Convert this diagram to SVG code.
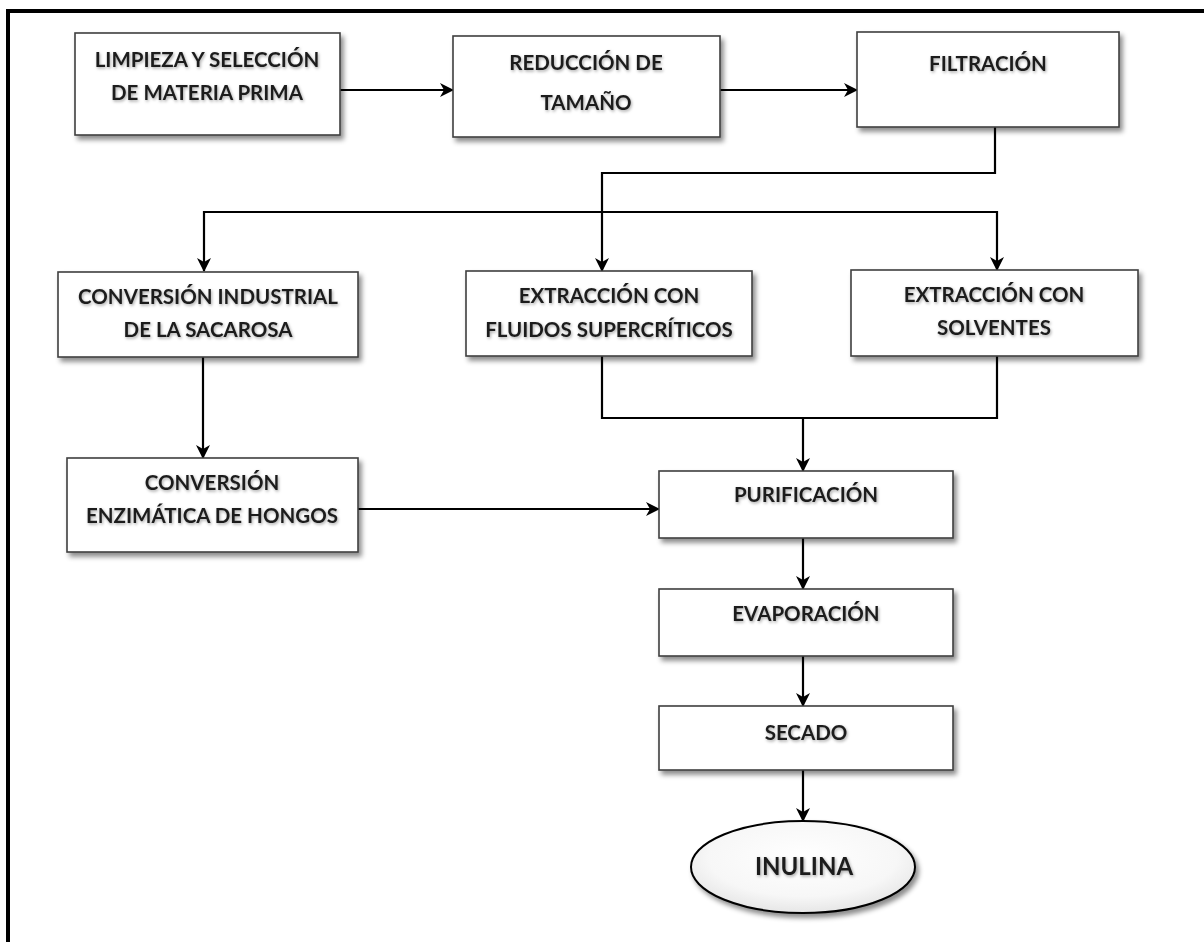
<svg xmlns="http://www.w3.org/2000/svg" width="1204" height="942" viewBox="0 0 1204 942">
  <defs>
    <filter id="shadow" x="-10%" y="-10%" width="130%" height="140%">
      <feDropShadow dx="3" dy="4" stdDeviation="2.5" flood-color="#000" flood-opacity="0.45"/>
    </filter>
    <filter id="tshadow" x="-10%" y="-30%" width="120%" height="160%">
      <feDropShadow dx="1" dy="1.5" stdDeviation="1.5" flood-color="#000" flood-opacity="0.35"/>
    </filter>
    <radialGradient id="eg" cx="50%" cy="40%" r="60%">
      <stop offset="0" stop-color="#ffffff"/>
      <stop offset="0.7" stop-color="#f7f7f7"/>
      <stop offset="1" stop-color="#e6e6e6"/>
    </radialGradient>
    <marker id="arr" markerWidth="14" markerHeight="14" refX="13" refY="7" orient="auto" markerUnits="userSpaceOnUse">
      <path d="M0,0 L14,7 L0,14 L4,7 Z" fill="#000"/>
    </marker>
  </defs>
  <style>
    .box { fill: #ffffff; stroke: #3f3f3f; stroke-width: 1.6; filter: url(#shadow); }
    .lbl { font-family: Lato, "Open Sans", "Liberation Sans", sans-serif; font-weight: bold; font-size: 20.5px; fill: #1e1e1e; text-anchor: middle; filter: url(#tshadow); }
    .big { font-size: 24px; }
    .con { fill: none; stroke: #000; stroke-width: 2.2; }
  </style>

  <rect x="0" y="0" width="1204" height="942" fill="#ffffff"/>
  <path d="M8,942 V11 H1204" fill="none" stroke="#000" stroke-width="4"/>

  <g id="connectors">
    <path class="con" d="M340,90 H453" marker-end="url(#arr)"/>
    <path class="con" d="M720,90 H857" marker-end="url(#arr)"/>
    <path class="con" d="M995,127 V173 H602 V271" marker-end="url(#arr)"/>
    <path class="con" d="M600,212 H204 V271" marker-end="url(#arr)"/>
    <path class="con" d="M600,212 H997 V270" marker-end="url(#arr)"/>
    <path class="con" d="M602,356 V418 H997 V356"/>
    <path class="con" d="M803,418 V471" marker-end="url(#arr)"/>
    <path class="con" d="M203,357 V458" marker-end="url(#arr)"/>
    <path class="con" d="M358,509 H659" marker-end="url(#arr)"/>
    <path class="con" d="M803,538 V589" marker-end="url(#arr)"/>
    <path class="con" d="M803,656 V706" marker-end="url(#arr)"/>
    <path class="con" d="M803,770 V821" marker-end="url(#arr)"/>
  </g>

  <g id="limpieza">
    <rect class="box" x="75" y="33" width="265" height="102"/>
    <text class="lbl" x="207" y="67">LIMPIEZA Y SELECCIÓN</text>
    <text class="lbl" x="207" y="100">DE MATERIA PRIMA</text>
  </g>
  <g id="reduccion">
    <rect class="box" x="453" y="36" width="267" height="101"/>
    <text class="lbl" x="586" y="70">REDUCCIÓN DE</text>
    <text class="lbl" x="586" y="110">TAMAÑO</text>
  </g>
  <g id="filtracion">
    <rect class="box" x="857" y="32" width="262" height="95"/>
    <text class="lbl" x="988" y="71">FILTRACIÓN</text>
  </g>
  <g id="conversion-industrial">
    <rect class="box" x="58" y="272" width="300" height="85"/>
    <text class="lbl" x="208" y="304">CONVERSIÓN INDUSTRIAL</text>
    <text class="lbl" x="208" y="337">DE LA SACAROSA</text>
  </g>
  <g id="extraccion-fluidos">
    <rect class="box" x="466" y="271" width="286" height="85"/>
    <text class="lbl" x="609" y="303">EXTRACCIÓN CON</text>
    <text class="lbl" x="609" y="337">FLUIDOS SUPERCRÍTICOS</text>
  </g>
  <g id="extraccion-solventes">
    <rect class="box" x="851" y="270" width="287" height="86"/>
    <text class="lbl" x="994" y="302">EXTRACCIÓN CON</text>
    <text class="lbl" x="994" y="335">SOLVENTES</text>
  </g>
  <g id="conversion-enzimatica">
    <rect class="box" x="67" y="458" width="291" height="94"/>
    <text class="lbl" x="212" y="490">CONVERSIÓN</text>
    <text class="lbl" x="212" y="523">ENZIMÁTICA DE HONGOS</text>
  </g>
  <g id="purificacion">
    <rect class="box" x="659" y="471" width="294" height="67"/>
    <text class="lbl" x="806" y="502">PURIFICACIÓN</text>
  </g>
  <g id="evaporacion">
    <rect class="box" x="659" y="589" width="294" height="67"/>
    <text class="lbl" x="806" y="621">EVAPORACIÓN</text>
  </g>
  <g id="secado">
    <rect class="box" x="659" y="706" width="294" height="64"/>
    <text class="lbl" x="806" y="740">SECADO</text>
  </g>
  <g id="inulina">
    <ellipse cx="803" cy="867" rx="112" ry="46" fill="url(#eg)" stroke="#000" stroke-width="2" filter="url(#shadow)"/>
    <text class="lbl big" x="804" y="875">INULINA</text>
  </g>
</svg>
